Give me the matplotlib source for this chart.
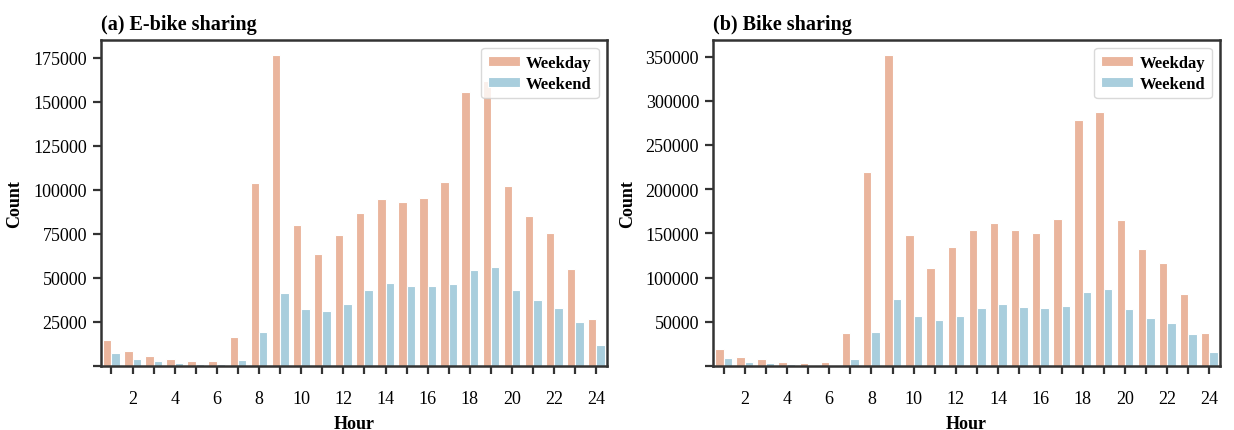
import matplotlib
matplotlib.use("Agg")
import matplotlib.pyplot as plt
import numpy as np

plt.rcParams['font.family'] = ['Liberation Serif', 'DejaVu Serif']

hours = np.arange(1, 25)

ebike_weekday = [14500, 8300, 5850, 3800, 2800, 3000, 16200, 104000, 176400, 80200,
                 63400, 74300, 86800, 94900, 93200, 95300, 104200, 155800, 161900,
                 102300, 85300, 75700, 54900, 26400]
ebike_weekend = [7200, 3800, 2800, 1900, 1100, 900, 3600, 19200, 41300, 32300,
                 31100, 35300, 43200, 47000, 45300, 45500, 46800, 54500, 56000,
                 43000, 37200, 33000, 24700, 11900]

bike_weekday = [19200, 10200, 7500, 4900, 3800, 4900, 36800, 219500, 351500, 148500,
                110900, 134200, 153400, 161300, 153400, 150000, 165800, 278200, 287200,
                165400, 132000, 116500, 82000, 36800]
bike_weekend = [9000, 4900, 3000, 1900, 1100, 1100, 7500, 38000, 76300, 56800,
                51500, 57100, 65800, 69900, 66500, 65800, 68400, 83800, 87600,
                64300, 54500, 48100, 35700, 15800]

titles = ["(a) E-bike sharing", "(b) Bike sharing"]
yticks_list = [np.arange(0, 175001, 25000), np.arange(0, 350001, 50000)]

c_weekday = "#EAB59D"
c_weekend = "#A9CEDD"
spine_col = "#333333"

fig = plt.figure(figsize=(12.34, 4.31), dpi=100)
axes = [fig.add_axes([0.0818, 0.1485, 0.410, 0.757]),
        fig.add_axes([0.5778, 0.1485, 0.4109, 0.757])]

panels = [(ebike_weekday, ebike_weekend), (bike_weekday, bike_weekend)]

for ax, (wd, we), title, yt in zip(axes, panels, titles, yticks_list):
    x = np.arange(len(hours))
    ax.bar(x - 0.2, wd, width=0.4, color=c_weekday, edgecolor="white",
           linewidth=0.8, label="Weekday")
    ax.bar(x + 0.2, we, width=0.4, color=c_weekend, edgecolor="white",
           linewidth=0.8, label="Weekend")
    ax.set_xlim(-0.5, len(hours) - 0.5)
    ax.set_ylim(0, max(wd) * 1.05)

    ax.set_xticks(x)
    ax.set_xticklabels([str(h) if h % 2 == 0 else "" for h in hours], fontsize=13)
    ax.set_yticks(yt)
    ax.set_yticklabels([""] + [str(v) for v in yt[1:]], fontsize=13)

    ax.tick_params(axis="x", length=6, width=1.6, color=spine_col, pad=11)
    ax.tick_params(axis="y", length=6, width=1.6, color=spine_col, pad=4)
    for s in ax.spines.values():
        s.set_linewidth(1.8)
        s.set_color(spine_col)

    ax.set_xlabel("Hour", fontsize=13, fontweight="bold", labelpad=6)
    ax.set_ylabel("Count", fontsize=13, fontweight="bold", labelpad=7)
    ax.set_title(title, loc="left", fontsize=14.5, fontweight="bold", pad=8)

    leg = ax.legend(loc="upper right", prop={"weight": "bold", "size": 12},
                    handlelength=1.9, handleheight=0.5, labelspacing=0.3,
                    borderpad=0.4, handletextpad=0.4, fancybox=True)
    leg.get_frame().set_edgecolor("#d0d0d0")
    leg.get_frame().set_linewidth(1.0)

fig.savefig("out.png", dpi=100)
